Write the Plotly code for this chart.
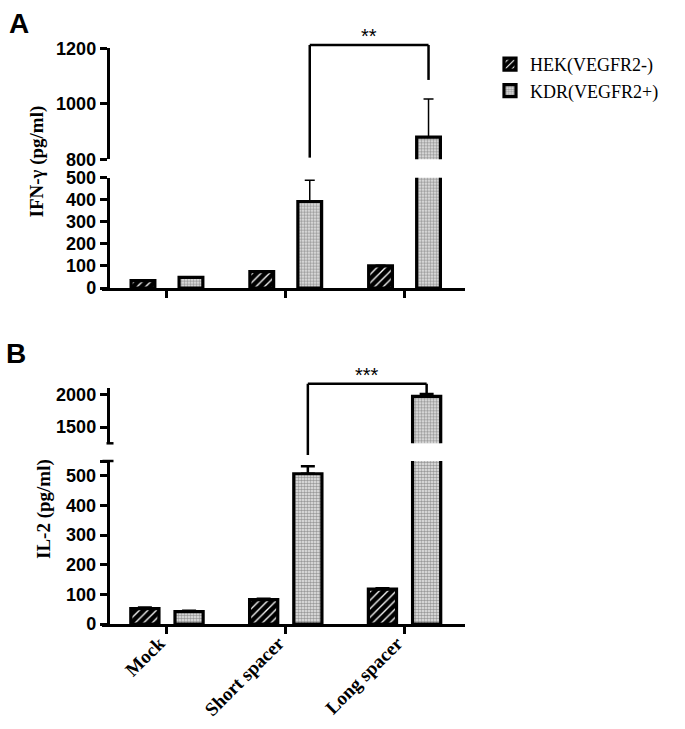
import plotly.graph_objects as go

# ---------------- data ----------------
categories = ["Mock", "Short spacer", "Long spacer"]
series_names = ["HEK(VEGFR2-)", "KDR(VEGFR2+)"]

ifn_hek = [33, 74, 100]
ifn_hek_err = [2, 3, 3]
ifn_kdr = [48, 392, 880]
ifn_kdr_err = [3, 96, 137]

il2_hek = [52, 82, 118]
il2_hek_err = [4, 3, 3]
il2_kdr = [42, 507, 1975]
il2_kdr_err = [3, 25, 35]

ifn_lower_ticks = [0, 100, 200, 300, 400, 500]
ifn_upper_ticks = [800, 1000, 1200]
il2_lower_ticks = [0, 100, 200, 300, 400, 500, 550]
il2_lower_text = ["0", "100", "200", "300", "400", "500", ""]
il2_upper_ticks = [1500, 2000]

ifn_lower_range = [0, 500]
ifn_upper_range = [800, 1200]
il2_lower_range = [0, 550]
il2_upper_range = [1250, 2100]

sig_a = "**"
sig_b = "***"

# ---------------- geometry helpers ----------------
W, H = 685, 729


def fx(p):
    return p / W


def fy(p):
    return 1 - p / H


def dom(v, rng):
    return (v - rng[0]) / (rng[1] - rng[0])


x_domain = [fx(102), fx(465)]
x_range = [-0.547, 2.509]
yaxis_pos = fx(107.5)

BLACK = "black"
AXW = 2.5

hek_marker = dict(
    color="black",
    pattern=dict(shape="/", bgcolor="black", fgcolor="white", size=6, solidity=0.22),
    line=dict(color=BLACK, width=3.2),
)
kdr_marker = dict(
    color="#d0d0d0",
    pattern=dict(shape=".", bgcolor="#ececec", fgcolor="#9a9a9a", size=3, solidity=0.55),
    line=dict(color=BLACK, width=3.2),
)

fig = go.Figure()

xs = list(range(len(categories)))


def add_bars(xa, ya, vals, errs, name, marker, width, offset, ew, eth, showlegend):
    fig.add_trace(go.Bar(
        x=xs, y=vals, name=name, xaxis=xa, yaxis=ya,
        width=width, offset=offset, marker=marker,
        error_y=dict(type="data", array=errs, arrayminus=[0] * len(errs),
                     symmetric=False, color=BLACK, thickness=eth, width=ew),
        showlegend=showlegend, legendgroup=name, hoverinfo="skip",
    ))


# Panel A
wA = 0.20
cA = 0.202
for ya in ["y", "y2"]:
    add_bars("x", ya, ifn_hek, ifn_hek_err, series_names[0], hek_marker, wA, -cA - wA / 2, 5, 1.5, ya == "y")
    add_bars("x", ya, ifn_kdr, ifn_kdr_err, series_names[1], kdr_marker, wA, cA - wA / 2, 5, 1.5, ya == "y")

# Panel B
wB = 0.237
cB = 0.186
for ya in ["y3", "y4"]:
    add_bars("x2", ya, il2_hek, il2_hek_err, series_names[0], hek_marker, wB, -cB - wB / 2, 7, 2.5, False)
    add_bars("x2", ya, il2_kdr, il2_kdr_err, series_names[1], kdr_marker, wB, cB - wB / 2, 7, 2.5, False)

tickfont = dict(family="Liberation Sans", size=18, color=BLACK, weight="bold")

yaxis_common = dict(
    anchor="free", position=yaxis_pos, showline=True, linecolor=BLACK, linewidth=AXW,
    ticks="outside", ticklen=7, tickwidth=AXW, tickcolor=BLACK, showgrid=False,
    zeroline=False, tickfont=tickfont, automargin=False, fixedrange=True,
)
xaxis_common = dict(
    domain=x_domain, range=x_range, showline=True, linecolor=BLACK, linewidth=AXW,
    ticks="outside", ticklen=7, tickwidth=AXW, tickcolor=BLACK, showgrid=False,
    zeroline=False, tickvals=xs, showticklabels=False, automargin=False, fixedrange=True,
)

fig.update_layout(
    width=W, height=H, template="none",
    margin=dict(l=0, r=0, t=0, b=0),
    paper_bgcolor="white", plot_bgcolor="rgba(0,0,0,0)",
    font=dict(family="Liberation Sans", color=BLACK),
    barmode="overlay",
    xaxis=dict(xaxis_common, anchor="y"),
    xaxis2=dict(xaxis_common, anchor="y3"),
    yaxis=dict(yaxis_common, domain=[fy(288), fy(177.7)], range=ifn_lower_range, tickvals=ifn_lower_ticks),
    yaxis2=dict(yaxis_common, domain=[fy(159.3), fy(48.3)], range=ifn_upper_range, tickvals=ifn_upper_ticks),
    yaxis3=dict(yaxis_common, domain=[fy(624), fy(461)], range=il2_lower_range,
                tickvals=il2_lower_ticks, ticktext=il2_lower_text),
    yaxis4=dict(yaxis_common, domain=[fy(443.3), fy(388.3)], range=il2_upper_range, tickvals=il2_upper_ticks),
    legend=dict(x=fx(490), y=fy(46), xanchor="left", yanchor="top",
                font=dict(family="Liberation Serif", size=18, color=BLACK),
                bgcolor="rgba(0,0,0,0)", traceorder="normal"),
    showlegend=True,
)

shapes = []


def seg(xref, yref, x0, y0, x1, y1, w=AXW):
    shapes.append(dict(type="line", xref=xref, yref=yref, x0=x0, y0=y0, x1=x1, y1=y1,
                       line=dict(color=BLACK, width=w)))


# bracket A (short vs long KDR)
xa1 = 1 + cA
xa2 = 2 + cA
topA = dom(1212, ifn_upper_range)
seg("x", "y2 domain", xa1, dom(806, ifn_upper_range), xa1, topA)
seg("x", "y2 domain", xa1, topA, xa2, topA)
seg("x", "y2 domain", xa2, topA, xa2, dom(1086, ifn_upper_range))

# bracket B
xb1 = 1 + cB
xb2 = 2 + cB
topB = dom(2170, il2_upper_range)
seg("x2", "y4 domain", xb1, dom(1069, il2_upper_range), xb1, topB)
seg("x2", "y4 domain", xb1, topB, xb2, topB)
seg("x2", "y4 domain", xb2, topB, xb2, dom(2026, il2_upper_range))

# break caps on panel B axis
seg("paper", "y4 domain", fx(106.5), 0, fx(113.5), 0)
seg("paper", "y3 domain", fx(102.5), 1, fx(113.5), 1)

fig.update_layout(shapes=shapes)

annotations = [
    dict(text="A", x=fx(7), y=fy(23), xref="paper", yref="paper", xanchor="left", yanchor="middle",
         showarrow=False, font=dict(family="Liberation Sans", size=28, color=BLACK, weight="bold")),
    dict(text="B", x=fx(4), y=fy(353), xref="paper", yref="paper", xanchor="left", yanchor="middle",
         showarrow=False, font=dict(family="Liberation Sans", size=28, color=BLACK, weight="bold")),
    dict(text="IFN-γ (pg/ml)", x=fx(36), y=fy(161.5), xref="paper", yref="paper", textangle=-90,
         xanchor="center", yanchor="middle", showarrow=False,
         font=dict(family="Liberation Serif", size=19, color=BLACK, weight="bold")),
    dict(text="IL-2 (pg/ml)", x=fx(44), y=fy(509), xref="paper", yref="paper", textangle=-90,
         xanchor="center", yanchor="middle", showarrow=False,
         font=dict(family="Liberation Serif", size=19, color=BLACK, weight="bold")),
    dict(text=sig_a, x=(xa1 + xa2) / 2, y=topA, xref="x", yref="y2 domain", xanchor="center",
         yanchor="bottom", showarrow=False, yshift=-4,
         font=dict(family="Liberation Sans", size=20, color=BLACK)),
    dict(text=sig_b, x=(xb1 + xb2) / 2, y=topB, xref="x2", yref="y4 domain", xanchor="center",
         yanchor="bottom", showarrow=False, yshift=-4,
         font=dict(family="Liberation Sans", size=20, color=BLACK)),
]

# rotated category labels under panel B
for i, cat in enumerate(categories):
    annotations.append(dict(
        text=cat, x=i, y=fy(630), xref="x2", yref="paper", xanchor="right", yanchor="top",
        textangle=-45, showarrow=False, xshift=5,
        font=dict(family="Liberation Serif", size=19, color=BLACK, weight="bold")))

fig.update_layout(annotations=annotations)

fig.write_html("out.html", config={"displayModeBar": False},
               post_script="document.body.style.margin='0';")
